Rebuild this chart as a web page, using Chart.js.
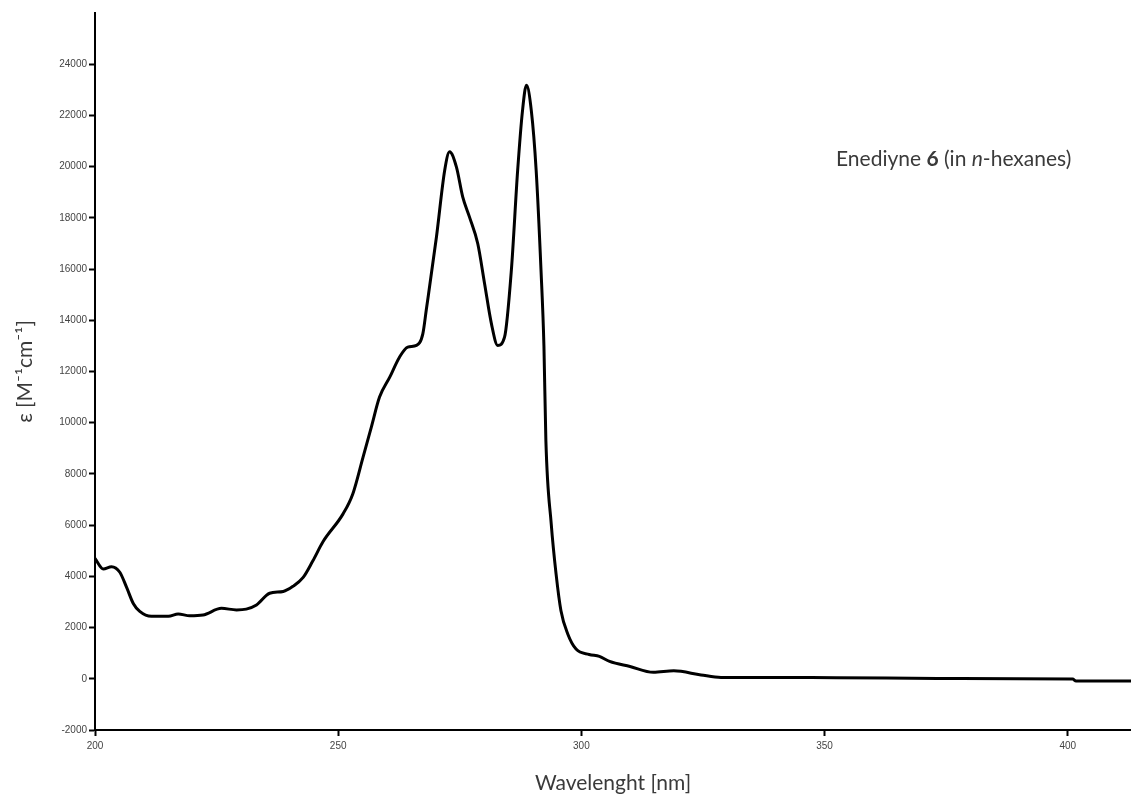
<!DOCTYPE html>
<html>
<head>
<meta charset="utf-8">
<script src="https://cdn.jsdelivr.net/npm/chart.js@4"></script>
<style>
  body { margin: 0; background: #fff; }
</style>
</head>
<body>
<canvas id="uv-chart" width="1131" height="798"></canvas>
<script>
// wavelength (nm) and molar absorptivity
var wavelength = [
      200.0, 201.7, 203.4, 205.1, 206.5, 207.9, 209.2, 211.6, 215.1, 217.1,
      219.5, 222.2, 226.0, 229.1, 231.1, 233.2, 235.9, 238.7, 240.7, 242.8,
      244.8, 246.9, 251.0, 253.0, 255.1, 256.8, 258.5, 260.6, 262.6, 264.3,
      266.1, 267.4, 268.1, 270.2, 271.9, 272.9, 274.3, 275.6, 277.0, 278.7,
      280.1, 281.5, 282.8, 284.2, 285.6, 286.9, 287.9, 288.7, 289.7, 290.7,
      291.7, 292.3, 292.7, 293.8, 294.8, 295.8, 297.2, 298.9, 301.6, 303.7,
      305.8, 310.0, 314.8, 319.0, 324.6, 328.7, 352.4, 373.2, 401.0, 401.7,
      413.0
]
var epsilon = [
      4700, 4290, 4380, 4160, 3570, 2930, 2630, 2440, 2440, 2530,
      2460, 2490, 2750, 2690, 2720, 2880, 3340, 3410, 3610, 3960,
      4610, 5360, 6440, 7220, 8650, 9820, 11000, 11780, 12560, 12950,
      13020, 13470, 14390, 17250, 19860, 20580, 19990, 18820, 18030, 16990,
      15430, 13870, 13020, 13340, 15950, 19860, 22200, 23180, 22200, 19860,
      15950, 13000, 9300, 6050, 4090, 2660, 1750, 1160, 950, 875,
      680, 480, 255, 310, 150, 55, 45, 15, -10, -90,
      -90
]
var xTicks = [200, 250, 300, 350, 400]
var yTicks = [-2000, 0, 2000, 4000, 6000, 8000, 10000, 12000, 14000, 16000, 18000, 20000, 22000, 24000]

var points = []
for (var i = 0; i < wavelength.length; i++) {
      points.push({ x: wavelength[i], y: epsilon[i] })
}

var textColor = '#3a3a3a'

// label inside the plot: "Enediyne 6 (in n-hexanes)" with bold 6 and italic n
var sampleLabel = {
      id: 'sampleLabel',
      afterDraw: function(chart) {
            var ctx = chart.ctx
            var parts = [
                  ['Enediyne ', ''],
                  ['6', 'bold '],
                  [' (in ', ''],
                  ['n', 'italic '],
                  ['-hexanes)', '']
            ]
            var x = 836
            ctx.save()
            ctx.fillStyle = textColor
            ctx.textBaseline = 'alphabetic'
            ctx.textAlign = 'left'
            parts.forEach(function(p) {
                  ctx.font = p[1] + '21px Lato'
                  ctx.fillText(p[0], x, 166)
                  x += ctx.measureText(p[0]).width
            })
            ctx.restore()
      }
}

var ctx = document.getElementById('uv-chart').getContext('2d')
var chart = new Chart(ctx, {
      type: 'line',
      data: {
            datasets: [{
                  label: 'Enediyne 6',
                  data: points,
                  borderColor: '#000',
                  borderWidth: 3,
                  pointRadius: 0,
                  cubicInterpolationMode: 'monotone',
                  fill: false
            }]
      },
      options: {
            responsive: false,
            animation: false,
            layout: { padding: { top: 13, right: 0, left: 0, bottom: 0 } },
            plugins: {
                  legend: { display: false },
                  tooltip: { enabled: false }
            },
            scales: {
                  x: {
                        type: 'linear',
                        min: 200,
                        max: 413,
                        afterBuildTicks: function(scale) {
                              scale.ticks = xTicks.map(function(v) { return { value: v } })
                        },
                        afterFit: function(scale) { scale.height = 68 },
                        border: { color: '#000', width: 2 },
                        grid: { drawOnChartArea: false, color: '#000', tickLength: 6, tickWidth: 2 },
                        ticks: {
                              padding: 4,
                              maxRotation: 0,
                              color: '#444',
                              font: { family: 'Liberation Sans', size: 10 },
                              callback: function(v) { return String(v) }
                        },
                        title: {
                              display: true,
                              text: 'Wavelenght [nm]',
                              color: textColor,
                              padding: { top: 0, bottom: 2 },
                              font: { family: 'Lato', size: 21 }
                        }
                  },
                  y: {
                        min: -2000,
                        max: 26000,
                        afterBuildTicks: function(scale) {
                              scale.ticks = yTicks.map(function(v) { return { value: v } })
                        },
                        afterFit: function(scale) { scale.width = 95 },
                        border: { color: '#000', width: 2 },
                        grid: { drawOnChartArea: false, color: '#000', tickLength: 6, tickWidth: 2 },
                        ticks: {
                              padding: 2,
                              color: '#444',
                              font: { family: 'Liberation Sans', size: 10 },
                              callback: function(v) { return String(v) }
                        },
                        title: {
                              display: true,
                              text: 'ε [M⁻¹cm⁻¹]',
                              color: textColor,
                              padding: { top: 13, bottom: 0 },
                              font: { family: 'Lato', size: 21 }
                        }
                  }
            }
      },
      plugins: [sampleLabel]
})
</script>
</body>
</html>
